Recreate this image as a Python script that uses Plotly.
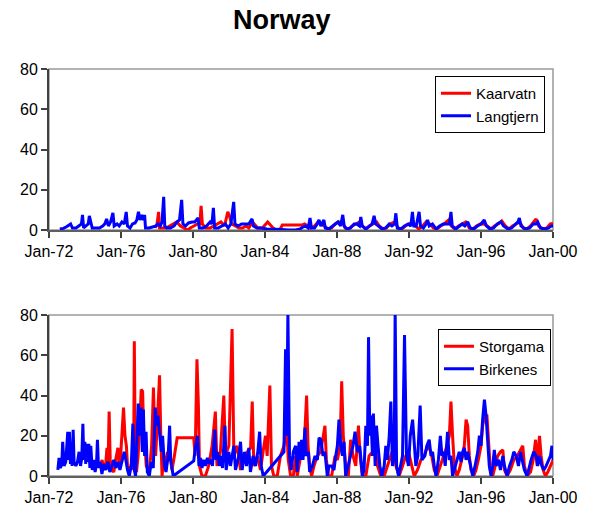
import plotly.graph_objects as go
import pandas as pd

# ---------------- data (decimal year, value) ----------------
kaarvatn = [
    (1977.90, 1), (1978.00, 3), (1978.09, 9), (1978.14, 1), (1978.30, 1), (1978.50, 1), (1978.70, 2),
    (1978.90, 3), (1979.10, 4), (1979.30, 2), (1979.55, 1), (1979.70, 0), (1979.85, 1), (1980.05, 2),
    (1980.25, 3), (1980.38, 3), (1980.45, 12), (1980.52, 3), (1980.70, 1), (1980.95, 1), (1981.15, 2),
    (1981.35, 3), (1981.55, 4), (1981.75, 2), (1981.93, 9), (1982.02, 7), (1982.15, 3), (1982.35, 2),
    (1982.55, 1), (1982.75, 1), (1982.95, 2), (1983.10, 1), (1983.30, 4), (1983.40, 3), (1983.60, 1),
    (1983.85, 1), (1984.05, 3), (1984.15, 4), (1984.30, 2.5), (1984.45, 1), (1984.65, 0), (1984.85, 0.5),
    (1984.96, 2.5), (1986.07, 2.5), (1986.20, 3), (1986.35, 2), (1986.55, 1), (1986.75, 2), (1986.95, 4),
    (1987.15, 3), (1987.30, 2), (1987.50, 0.5), (1987.70, 1), (1987.90, 3), (1988.10, 4), (1988.30, 4),
    (1988.45, 1), (1988.65, 0.5), (1988.85, 2), (1989.05, 3), (1989.25, 4), (1989.40, 2), (1989.60, 0.5),
    (1989.80, 2), (1990.00, 3), (1990.20, 4), (1990.35, 2), (1990.55, 0.5), (1990.75, 1), (1990.95, 3),
    (1991.20, 4), (1991.40, 1), (1991.60, 0.5), (1991.80, 2), (1992.00, 3), (1992.20, 4), (1992.35, 2),
    (1992.55, 0.5), (1992.75, 2), (1992.95, 4), (1993.15, 3), (1993.35, 1), (1993.55, 0.5), (1993.75, 2),
    (1993.95, 3), (1994.20, 5), (1994.35, 2), (1994.55, 0.5), (1994.75, 2), (1994.95, 3), (1995.15, 4),
    (1995.35, 1), (1995.55, 0.5), (1995.75, 2), (1995.95, 3), (1996.15, 3), (1996.35, 2), (1996.55, 0.5),
    (1996.75, 2), (1996.95, 3), (1997.15, 4.5), (1997.35, 2), (1997.55, 0.5), (1997.75, 2), (1997.95, 3),
    (1998.15, 4), (1998.35, 1), (1998.55, 0.5), (1998.75, 2), (1998.95, 4), (1999.06, 5.5), (1999.20, 2),
    (1999.45, 0.5), (1999.65, 1), (1999.85, 3), (2000.00, 3.3),
]

langtjern = [
    (1972.60, 0.5), (1972.80, 0.8), (1972.95, 1.5), (1973.08, 2.5), (1973.20, 3), (1973.30, 1), (1973.50, 1),
    (1973.65, 2), (1973.80, 3), (1973.86, 7.5), (1973.92, 1), (1974.05, 2), (1974.18, 3), (1974.24, 7),
    (1974.32, 4), (1974.40, 1), (1974.60, 1), (1974.80, 1), (1974.98, 2), (1975.10, 3), (1975.20, 5.5),
    (1975.30, 2), (1975.42, 4), (1975.55, 8.5), (1975.62, 2), (1975.78, 3), (1975.90, 2), (1976.05, 4),
    (1976.18, 3), (1976.29, 9), (1976.36, 2), (1976.50, 1), (1976.64, 3), (1976.78, 3.5), (1976.88, 5),
    (1976.97, 9), (1977.06, 5), (1977.16, 7.5), (1977.25, 5), (1977.31, 7.5), (1977.36, 1), (1977.55, 1),
    (1977.75, 1.5), (1977.95, 2), (1978.05, 3), (1978.18, 2), (1978.28, 4), (1978.37, 16.5), (1978.43, 2),
    (1978.55, 1), (1978.75, 1), (1978.95, 2), (1979.10, 4), (1979.25, 5), (1979.37, 15), (1979.44, 3),
    (1979.58, 2), (1979.75, 3.5), (1979.95, 4), (1980.10, 4), (1980.28, 6), (1980.35, 1), (1980.55, 1),
    (1980.75, 2), (1980.95, 4), (1981.05, 3), (1981.13, 11), (1981.20, 1), (1981.40, 1), (1981.60, 2),
    (1981.80, 3), (1981.95, 1), (1982.10, 3), (1982.26, 14), (1982.33, 3), (1982.50, 2), (1982.70, 3),
    (1982.90, 3), (1983.10, 3), (1983.28, 5.5), (1983.36, 2), (1983.55, 1), (1983.80, 1), (1984.10, 0.5),
    (1984.50, 0.5), (1984.90, 0.3), (1985.30, 0), (1985.70, 0), (1985.95, 0.5), (1986.10, 1.5),
    (1986.25, 2), (1986.40, 1), (1986.50, 6), (1986.58, 1), (1986.75, 1), (1986.90, 3), (1987.00, 5),
    (1987.10, 2), (1987.27, 5), (1987.35, 1), (1987.55, 0.5), (1987.75, 2), (1987.90, 3), (1988.05, 4),
    (1988.20, 2), (1988.32, 7.5), (1988.40, 2), (1988.55, 0.5), (1988.75, 1), (1988.95, 3), (1989.10, 3),
    (1989.25, 2), (1989.32, 6.5), (1989.40, 2), (1989.60, 0.5), (1989.80, 2), (1989.95, 3), (1990.06, 7),
    (1990.15, 3), (1990.30, 2), (1990.50, 0.5), (1990.70, 1), (1990.90, 3), (1991.05, 2), (1991.20, 3),
    (1991.27, 8.3), (1991.35, 1), (1991.55, 0.5), (1991.75, 2), (1991.95, 3), (1992.10, 2), (1992.19, 9),
    (1992.27, 2), (1992.40, 2), (1992.56, 9), (1992.64, 2), (1992.80, 1), (1992.95, 3), (1993.03, 5),
    (1993.12, 2), (1993.30, 3), (1993.50, 0.5), (1993.70, 2), (1993.90, 3), (1994.10, 3), (1994.25, 3),
    (1994.33, 9), (1994.40, 2), (1994.60, 0.5), (1994.80, 2), (1994.95, 3), (1995.10, 2), (1995.26, 4),
    (1995.40, 1), (1995.60, 0.5), (1995.80, 2), (1996.00, 3), (1996.18, 5), (1996.30, 2), (1996.50, 0.5),
    (1996.70, 1), (1996.90, 3), (1997.11, 4), (1997.25, 2), (1997.50, 0.5), (1997.70, 1), (1997.90, 3),
    (1998.05, 4), (1998.13, 6), (1998.22, 2), (1998.45, 0.5), (1998.70, 1), (1998.90, 3), (1999.05, 3),
    (1999.15, 4), (1999.30, 1), (1999.55, 0.5), (1999.75, 1), (1999.90, 2), (2000.00, 2),
]

storgama = [
    (1974.85, 5), (1974.95, 8), (1975.05, 3), (1975.15, 6), (1975.22, 14), (1975.28, 5), (1975.34, 32),
    (1975.40, 8), (1975.49, 3), (1975.60, 2), (1975.70, 8), (1975.83, 14), (1975.90, 5), (1975.98, 10),
    (1976.14, 34), (1976.22, 20), (1976.30, 15), (1976.36, 5), (1976.45, 3), (1976.55, 5), (1976.64, 10),
    (1976.70, 3), (1976.74, 67), (1976.80, 5), (1976.86, 2), (1976.95, 10), (1977.04, 25), (1977.12, 43),
    (1977.20, 42), (1977.26, 20), (1977.33, 15), (1977.40, 5), (1977.50, 3), (1977.60, 5), (1977.70, 15),
    (1977.80, 44), (1977.86, 25), (1977.92, 10), (1977.98, 20), (1978.06, 40), (1978.14, 50), (1978.21, 20),
    (1978.28, 0), (1978.38, 10), (1978.48, 5), (1978.58, 12), (1978.66, 8), (1978.74, 10), (1978.83, 3),
    (1978.93, 8), (1979.05, 15), (1979.12, 19), (1979.95, 19), (1980.04, 19), (1980.12, 10), (1980.22, 58),
    (1980.30, 35), (1980.36, 5), (1980.50, 0), (1980.69, 0), (1980.87, 5), (1981.06, 15), (1981.24, 32),
    (1981.33, 5), (1981.52, 12), (1981.71, 40), (1981.80, 10), (1981.99, 15), (1982.17, 73), (1982.27, 10),
    (1982.45, 15), (1982.64, 3), (1982.83, 10), (1983.01, 12), (1983.20, 14), (1983.29, 37), (1983.38, 5),
    (1983.57, 10), (1983.75, 3), (1983.94, 15), (1984.03, 20), (1984.12, 10), (1984.27, 45), (1984.36, 5),
    (1984.49, 0), (1984.68, 0), (1984.86, 10), (1985.05, 15), (1985.20, 25), (1985.29, 8), (1985.42, 0),
    (1985.57, 0), (1985.70, 10), (1985.79, 0), (1985.98, 10), (1986.16, 12), (1986.31, 40), (1986.39, 15),
    (1986.48, 5), (1986.59, 0), (1986.72, 5), (1986.91, 10), (1987.09, 12), (1987.33, 25), (1987.41, 8),
    (1987.52, 0), (1987.70, 0), (1987.89, 10), (1988.02, 8), (1988.17, 15), (1988.26, 47), (1988.35, 20),
    (1988.48, 5), (1988.63, 0), (1988.76, 18), (1988.89, 10), (1989.04, 5), (1989.19, 25), (1989.28, 10),
    (1989.41, 0), (1989.60, 0), (1989.78, 10), (1989.97, 12), (1990.12, 15), (1990.25, 5), (1990.43, 0),
    (1990.62, 0), (1990.80, 5), (1990.99, 10), (1991.14, 14), (1991.27, 5), (1991.45, 0), (1991.64, 5),
    (1991.82, 10), (1991.97, 12), (1992.16, 5), (1992.29, 0), (1992.47, 3), (1992.66, 8), (1992.85, 10),
    (1993.03, 15), (1993.22, 12), (1993.40, 3), (1993.55, 0), (1993.74, 5), (1993.92, 10), (1994.11, 15),
    (1994.24, 20), (1994.33, 37), (1994.42, 20), (1994.52, 5), (1994.66, 0), (1994.79, 3), (1994.98, 10),
    (1995.07, 15), (1995.17, 28), (1995.26, 25), (1995.35, 10), (1995.44, 3), (1995.59, 0), (1995.72, 3),
    (1995.85, 8), (1996.00, 15), (1996.09, 25), (1996.22, 30), (1996.33, 30), (1996.43, 15), (1996.52, 3),
    (1996.65, 0), (1996.78, 5), (1996.93, 10), (1997.08, 12), (1997.21, 13), (1997.30, 3), (1997.45, 0),
    (1997.63, 3), (1997.82, 8), (1998.01, 10), (1998.19, 13), (1998.32, 15), (1998.41, 5), (1998.56, 0),
    (1998.75, 2), (1998.90, 8), (1999.03, 18), (1999.12, 5), (1999.25, 20), (1999.34, 10), (1999.45, 3),
    (1999.58, 0), (1999.71, 2), (1999.86, 5), (2000.01, 8),
]

birkenes = [
    (1972.49, 3), (1972.56, 9), (1972.63, 4), (1972.71, 6), (1972.76, 17), (1972.84, 5), (1972.93, 7),
    (1973.04, 22), (1973.08, 8), (1973.13, 22), (1973.19, 6), (1973.25, 15), (1973.28, 5), (1973.34, 23),
    (1973.39, 7), (1973.49, 5), (1973.58, 7), (1973.67, 12), (1973.75, 5), (1973.82, 9), (1973.88, 26),
    (1973.93, 8), (1973.99, 17), (1974.04, 6), (1974.10, 16), (1974.16, 7), (1974.21, 16), (1974.27, 4),
    (1974.32, 15), (1974.40, 3), (1974.49, 8), (1974.56, 2), (1974.64, 6), (1974.69, 18), (1974.75, 4),
    (1974.84, 7), (1974.94, 1), (1975.03, 6), (1975.16, 3), (1975.27, 7), (1975.38, 2), (1975.49, 5),
    (1975.60, 8), (1975.71, 4), (1975.83, 7), (1975.94, 3), (1976.05, 8), (1976.18, 12), (1976.27, 8),
    (1976.36, 3), (1976.46, 0), (1976.57, 5), (1976.66, 26), (1976.74, 3), (1976.81, 0), (1976.88, 15),
    (1976.96, 36), (1977.03, 20), (1977.11, 34), (1977.18, 12), (1977.24, 33), (1977.31, 10), (1977.39, 22),
    (1977.46, 2), (1977.57, 0), (1977.68, 7), (1977.79, 4), (1977.90, 34), (1977.98, 25), (1978.05, 30),
    (1978.15, 18), (1978.24, 12), (1978.31, 20), (1978.41, 5), (1978.50, 2), (1978.62, 10), (1978.70, 25),
    (1978.76, 8), (1978.90, 0), (1980.04, 7.5), (1980.13, 14), (1980.25, 20), (1980.33, 5), (1980.42, 9),
    (1980.50, 4), (1980.60, 8), (1980.70, 5), (1980.80, 9), (1980.90, 6), (1981.00, 8), (1981.08, 5),
    (1981.21, 23), (1981.28, 8), (1981.37, 12), (1981.46, 5), (1981.55, 10), (1981.64, 4), (1981.77, 25),
    (1981.84, 3), (1981.99, 12), (1982.08, 5), (1982.27, 15), (1982.36, 3), (1982.55, 10), (1982.64, 17),
    (1982.73, 3), (1982.86, 12), (1982.97, 5), (1983.10, 14), (1983.19, 2), (1983.34, 10), (1983.47, 5),
    (1983.60, 12), (1983.70, 22), (1983.79, 5), (1983.90, 0), (1985.05, 12), (1985.14, 63), (1985.20, 20),
    (1985.27, 81), (1985.36, 10), (1985.45, 3), (1985.57, 12), (1985.70, 15), (1985.79, 2), (1985.89, 17),
    (1985.98, 8), (1986.03, 18), (1986.11, 8), (1986.22, 24), (1986.29, 10), (1986.41, 12), (1986.48, 2),
    (1986.63, 5), (1986.78, 10), (1986.91, 8), (1987.00, 19), (1987.11, 18), (1987.22, 10), (1987.33, 12),
    (1987.46, 0), (1987.56, 5), (1987.70, 5), (1987.83, 3), (1987.93, 10), (1988.02, 15), (1988.11, 28),
    (1988.21, 15), (1988.30, 10), (1988.39, 17), (1988.48, 0), (1988.63, 5), (1988.76, 10), (1988.89, 15),
    (1989.00, 22), (1989.13, 12), (1989.26, 15), (1989.41, 0), (1989.50, 3), (1989.60, 25), (1989.69, 15),
    (1989.75, 69), (1989.82, 20), (1989.88, 30), (1989.97, 10), (1990.02, 31), (1990.12, 5), (1990.19, 25),
    (1990.28, 15), (1990.38, 5), (1990.49, 0), (1990.62, 5), (1990.71, 15), (1990.80, 8), (1990.90, 20),
    (1990.99, 37), (1991.08, 5), (1991.18, 10), (1991.23, 82), (1991.31, 5), (1991.42, 0), (1991.55, 5),
    (1991.64, 10), (1991.75, 70), (1991.86, 10), (1991.97, 5), (1992.07, 20), (1992.20, 28), (1992.29, 15),
    (1992.38, 5), (1992.49, 10), (1992.62, 35), (1992.72, 8), (1992.88, 10), (1992.99, 15), (1993.12, 18),
    (1993.22, 10), (1993.31, 12), (1993.40, 5), (1993.50, 0), (1993.63, 8), (1993.74, 20), (1993.83, 10),
    (1993.92, 12), (1994.01, 5), (1994.14, 22), (1994.24, 8), (1994.33, 10), (1994.42, 0), (1994.52, 3),
    (1994.66, 8), (1994.79, 12), (1994.89, 7), (1994.98, 12), (1995.07, 14), (1995.17, 8), (1995.26, 12),
    (1995.41, 5), (1995.54, 0), (1995.67, 5), (1995.82, 12), (1995.91, 20), (1996.00, 15), (1996.09, 28),
    (1996.19, 38), (1996.28, 30), (1996.37, 15), (1996.46, 5), (1996.56, 0), (1996.65, 5), (1996.74, 13),
    (1996.84, 5), (1996.97, 8), (1997.08, 3), (1997.21, 10), (1997.30, 5), (1997.45, 0), (1997.58, 5),
    (1997.71, 8), (1997.82, 12), (1997.95, 10), (1998.08, 5), (1998.19, 12), (1998.28, 8), (1998.41, 3),
    (1998.56, 0), (1998.69, 5), (1998.78, 8), (1998.93, 12), (1999.06, 10), (1999.15, 5), (1999.25, 10),
    (1999.38, 5), (1999.49, 3), (1999.62, 5), (1999.75, 8), (1999.86, 10), (1999.94, 15), (2000.01, 8),
]

tick_dates = ["1972-01-01", "1976-01-01", "1980-01-01", "1984-01-01",
              "1988-01-01", "1992-01-01", "1996-01-01", "2000-01-01"]
tick_labels = ["Jan-72", "Jan-76", "Jan-80", "Jan-84", "Jan-88", "Jan-92", "Jan-96", "Jan-00"]
y_ticks = [0, 20, 40, 60, 80]


def to_dates(series):
    out = []
    for t, _ in series:
        yr = int(t)
        out.append(pd.Timestamp(year=yr, month=1, day=1) + pd.Timedelta(days=(t - yr) * 365.25))
    return out


def vals(series):
    return [v for _, v in series]


RED = "#ff0000"
BLUE = "#0000ff"
FONT = "Liberation Sans, Arial, sans-serif"
W, H = 592, 514

fig = go.Figure()
fig.add_trace(go.Scatter(x=to_dates(kaarvatn), y=vals(kaarvatn), mode="lines", name="Kaarvatn",
                         line=dict(color=RED, width=3), xaxis="x", yaxis="y", legend="legend"))
fig.add_trace(go.Scatter(x=to_dates(langtjern), y=vals(langtjern), mode="lines", name="Langtjern",
                         line=dict(color=BLUE, width=3), xaxis="x", yaxis="y", legend="legend"))
fig.add_trace(go.Scatter(x=to_dates(storgama), y=vals(storgama), mode="lines", name="Storgama",
                         line=dict(color=RED, width=3), xaxis="x2", yaxis="y2", legend="legend2"))
fig.add_trace(go.Scatter(x=to_dates(birkenes), y=vals(birkenes), mode="lines", name="Birkenes",
                         line=dict(color=BLUE, width=3), xaxis="x2", yaxis="y2", legend="legend2"))

xdom = [49 / W, 553 / W]
top_dom = [(H - 230) / H, (H - 69) / H]
bot_dom = [(H - 476) / H, (H - 315) / H]

xcommon = dict(range=["1972-01-01", "2000-01-01"], tickmode="array", tickvals=tick_dates,
               ticktext=tick_labels, ticks="outside", ticklen=6, tickwidth=1.5, tickcolor="#404040",
               showline=True, linecolor="#606060", linewidth=2, showgrid=False, zeroline=False,
               tickfont=dict(size=16, color="black", family=FONT), domain=xdom, automargin=False)
ycommon = dict(range=[0, 80], tickmode="array", tickvals=y_ticks, ticks="outside", ticklen=6,
               tickwidth=1.5, tickcolor="#404040", showline=True, linecolor="#404040", linewidth=2,
               showgrid=False, zeroline=False, tickfont=dict(size=16, color="black", family=FONT),
               automargin=False)

legend_common = dict(bgcolor="white", bordercolor="black", borderwidth=1,
                     font=dict(size=15, color="black", family=FONT),
                     xanchor="left", yanchor="top", tracegroupgap=0)

fig.update_layout(
    width=W, height=H,
    margin=dict(l=0, r=0, t=0, b=0),
    paper_bgcolor="white", plot_bgcolor="white",
    font=dict(family=FONT, color="black"),
    xaxis=dict(**xcommon, anchor="y"),
    yaxis=dict(**ycommon, domain=top_dom, anchor="x"),
    xaxis2=dict(**xcommon, anchor="y2"),
    yaxis2=dict(**ycommon, domain=bot_dom, anchor="x2"),
    legend=dict(**legend_common, x=435 / W, y=(H - 76) / H),
    legend2=dict(**legend_common, x=438 / W, y=(H - 329) / H),
    shapes=[
        dict(type="rect", xref="x domain", yref="y domain", x0=0, x1=1, y0=0, y1=1,
             line=dict(color="#999999", width=1.5), layer="below"),
        dict(type="rect", xref="x2 domain", yref="y2 domain", x0=0, x1=1, y0=0, y1=1,
             line=dict(color="#999999", width=1.5), layer="below"),
    ],
    annotations=[dict(text="<b>Norway</b>", xref="paper", yref="paper", x=282 / W, y=(H - 20) / H,
                      xanchor="center", yanchor="middle", showarrow=False,
                      font=dict(size=27, family=FONT, color="black"))],
    showlegend=True,
)

fig.write_html("out.html", config={"displayModeBar": False},
               post_script="document.body.style.margin='0px';document.body.style.overflow='hidden';")
